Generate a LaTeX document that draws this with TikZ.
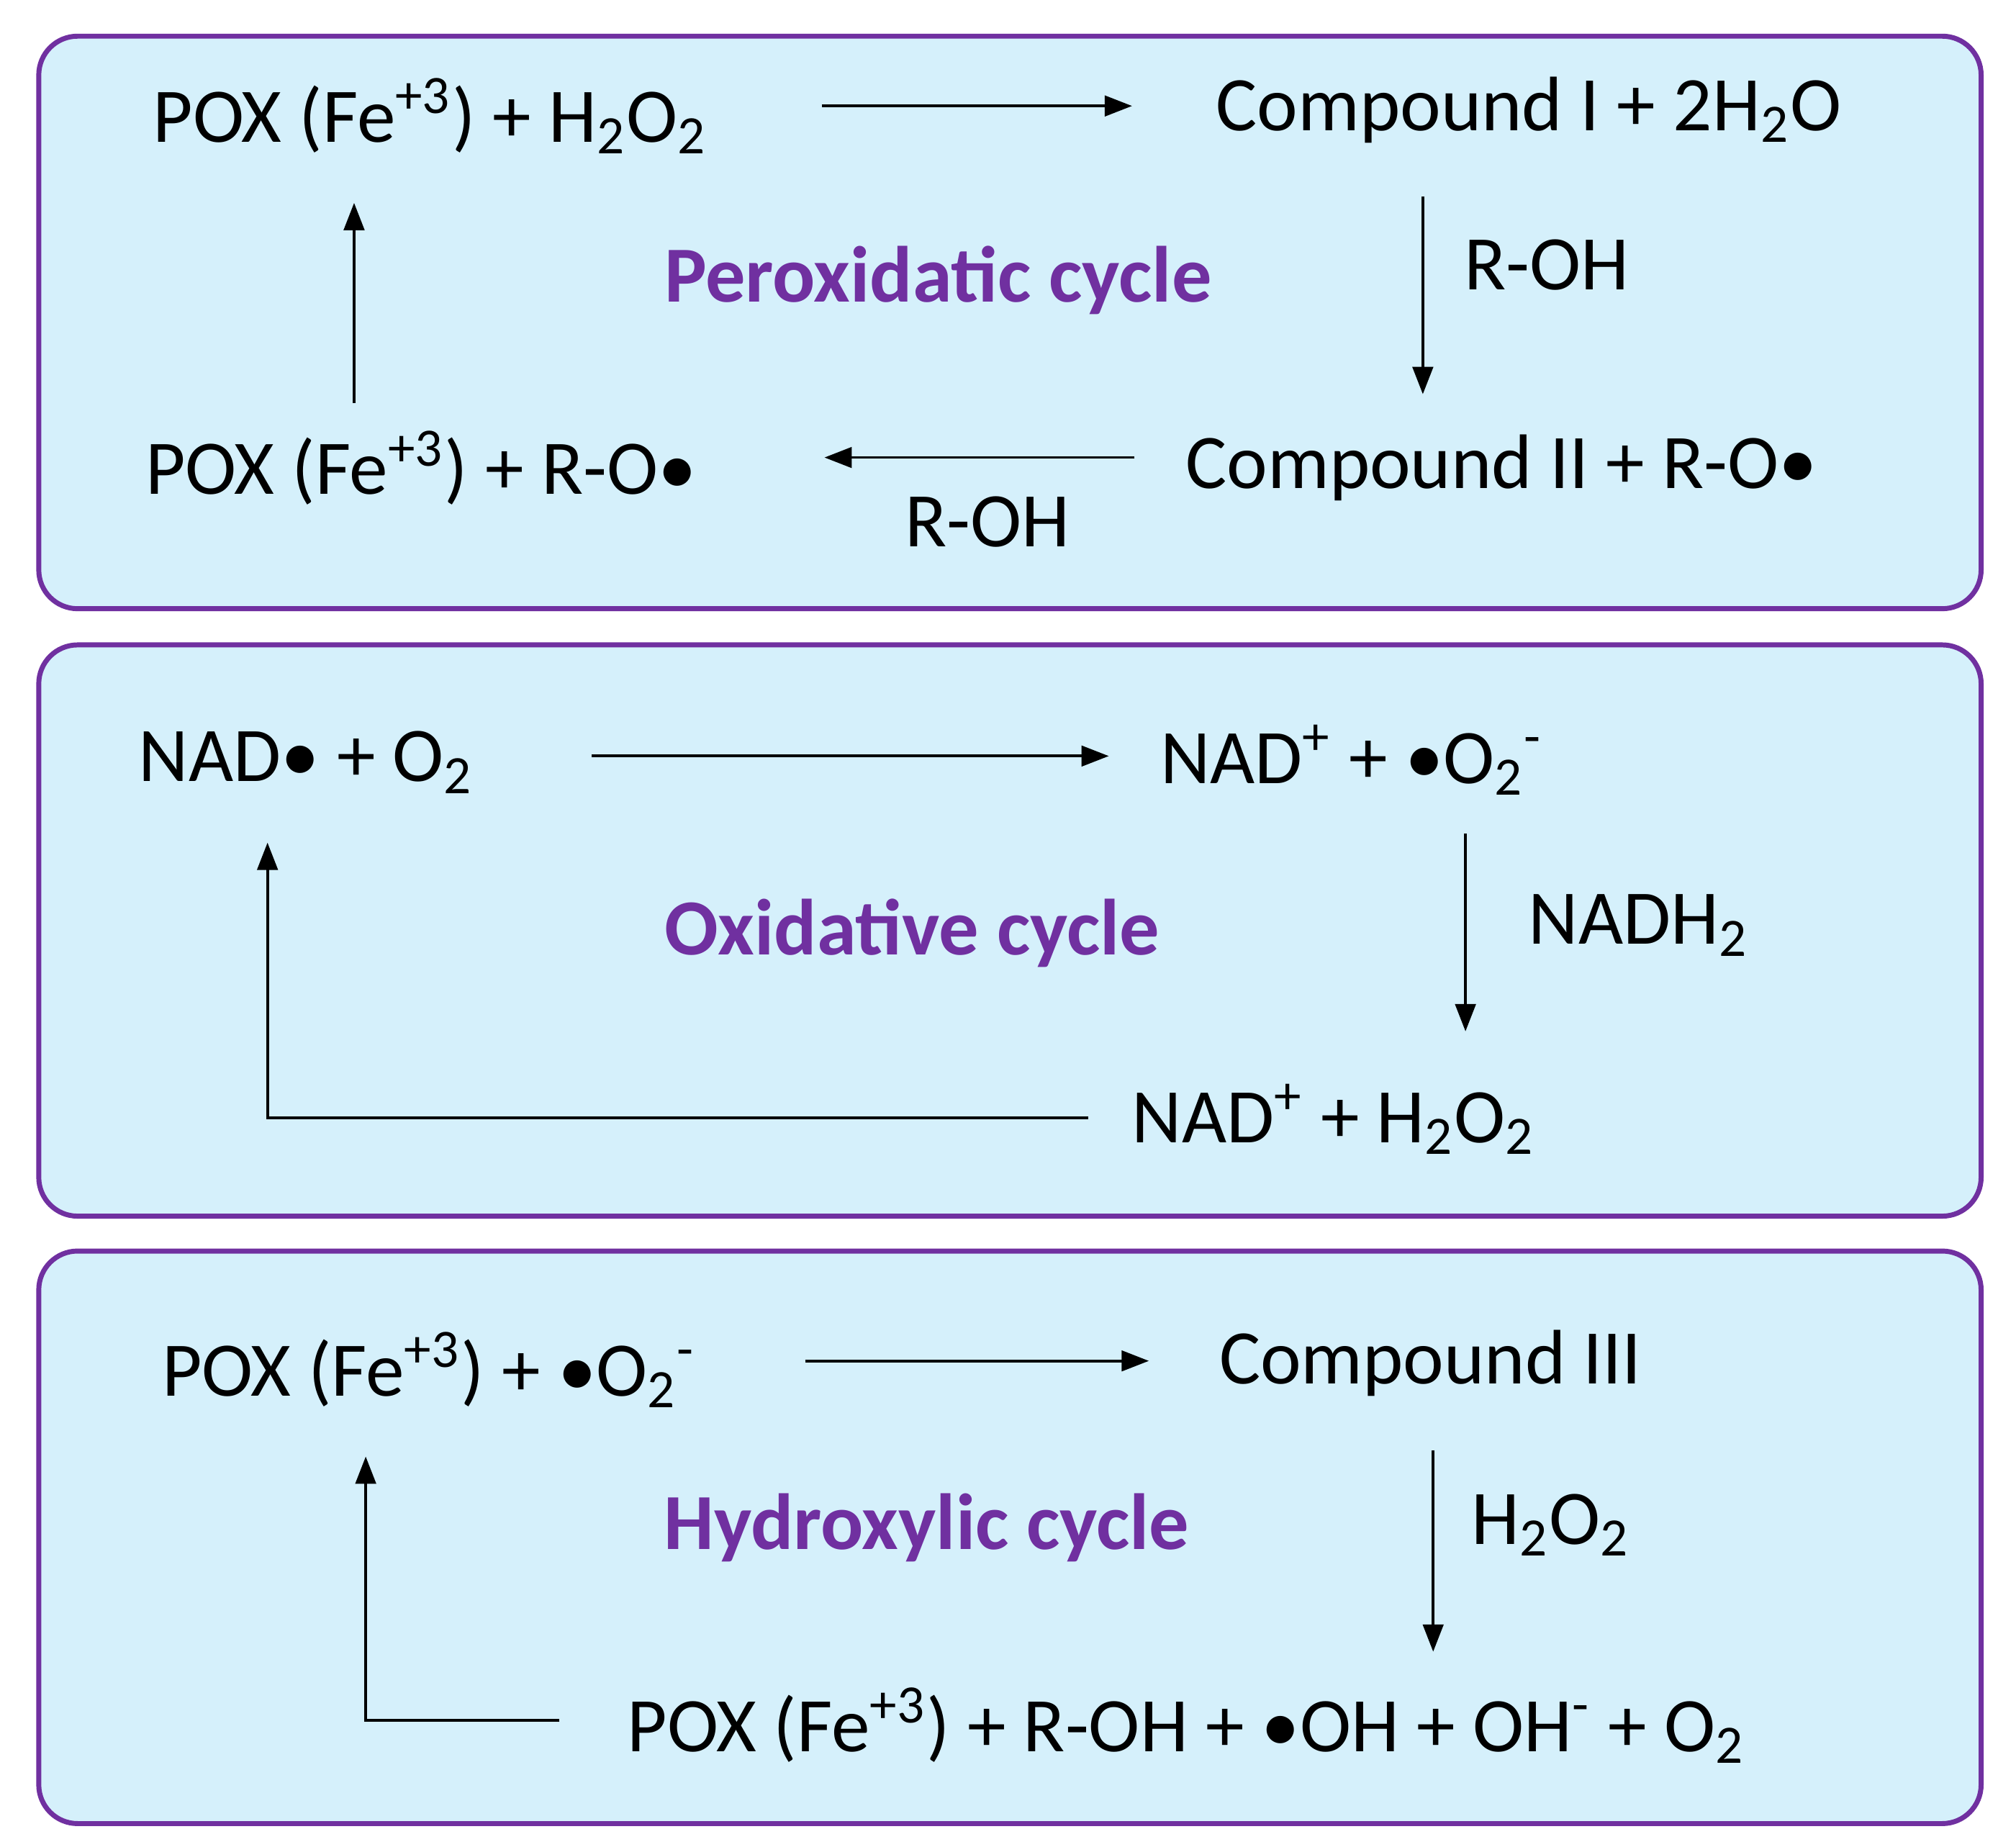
\documentclass[tikz,border=0pt]{standalone}
\usepackage{fontspec}
\setmainfont{Carlito}
\usetikzlibrary{arrows.meta}
\definecolor{boxfill}{HTML}{D5F0FB}
\definecolor{boxline}{HTML}{7030A0}
\newcommand{\sbs}[1]{\textsubscript{#1}}
\newcommand{\sps}[1]{\textsuperscript{#1}}
\begin{document}
\begin{tikzpicture}[x=0.01cm,y=-0.01cm,
  box/.style={draw=boxline,fill=boxfill,line width=1.1pt,rounded corners=0.3cm},
  txt/.style={font=\fontsize{17}{20}\selectfont,inner sep=0pt},
  ttl/.style={font=\fontsize{17.5}{20}\selectfont\bfseries,text=boxline,inner sep=0pt},
  arr/.style={line width=0.6pt,-{Triangle[length=6pt,width=4.5pt]}},
  ln/.style={line width=0.6pt}]
\useasboundingbox (0,0) rectangle (1560,1428.6);
\draw[box] (30,28) rectangle (1533,471);
\draw[box] (30,499) rectangle (1533,941);
\draw[box] (30,968) rectangle (1533,1411);
% box 1
\node[txt] (A) at (333,90) {POX (Fe\sps{+3}) + H\sbs{2}O\sbs{2}};
\node[txt] (B) at (1183,85) {Compound I + 2H\sbs{2}O};
\node[txt] (C) at (1162,362) {Compound II + R-O\textbullet};
\node[txt] (D) at (326,362) {POX (Fe\sps{+3}) + R-O\textbullet};
\node[ttl] (T1) at (726,217) {Peroxidatic cycle};
\coordinate (a1) at (636,82); \coordinate (a2) at (876,82);
\coordinate (b1) at (1101,152); \coordinate (b2) at (1101,305);
\coordinate (c1) at (878,354); \coordinate (c2) at (638,354);
\coordinate (d1) at (274,312); \coordinate (d2) at (274,157);
\draw[arr] (a1) -- (a2);
\draw[arr] (b1) -- (b2);
\draw[arr] (c1) -- (c2);
\draw[arr] (d1) -- (d2);
\node[txt] (L1) at (1197,205) {R-OH};
\node[txt] (L2) at (764,404) {R-OH};
% box 2
\node[txt] (E) at (237,590) {NAD\textbullet{} + O\sbs{2}};
\node[txt] (F) at (1046,588) {NAD\sps{+} + \textbullet O\sbs{2}\sps{-}};
\node[txt] (G) at (1032,866) {NAD\sps{+} + H\sbs{2}O\sbs{2}};
\node[ttl] (T2) at (706,722) {Oxidative cycle};
\coordinate (e1) at (458,585); \coordinate (e2) at (858,585);
\coordinate (f1) at (1134,645); \coordinate (f2) at (1134,798);
\coordinate (g1) at (842,865); \coordinate (g2) at (207,865); \coordinate (g3) at (207,652);
\draw[arr] (e1) -- (e2);
\draw[arr] (f1) -- (f2);
\draw[arr] (g1) -- (g2) -- (g3);
\node[txt] (L3) at (1268,716) {NADH\sbs{2}};
% box 3
\node[txt] (H) at (332,1060) {POX (Fe\sps{+3}) + \textbullet O\sbs{2}\sps{-}};
\node[txt] (I) at (1107,1055) {Compound III};
\node[txt] (J) at (918,1335) {POX (Fe\sps{+3}) + R-OH + \textbullet OH + OH\sps{-} + O\sbs{2}};
\node[ttl] (T3) at (717,1182) {Hydroxylic cycle};
\coordinate (h1) at (623,1053); \coordinate (h2) at (889,1053);
\coordinate (i1) at (1109,1122); \coordinate (i2) at (1109,1278);
\coordinate (j1) at (433,1331); \coordinate (j2) at (283,1331); \coordinate (j3) at (283,1127);
\draw[arr] (h1) -- (h2);
\draw[arr] (i1) -- (i2);
\draw[arr] (j1) -- (j2) -- (j3);
\node[txt] (L4) at (1200,1180) {H\sbs{2}O\sbs{2}};
\end{tikzpicture}
\end{document}
